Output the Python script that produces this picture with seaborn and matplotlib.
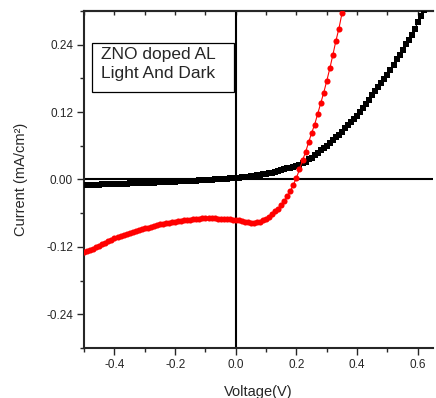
import numpy as np
import pandas as pd
import matplotlib
matplotlib.use('Agg')
import matplotlib.pyplot as plt
import seaborn as sns
from matplotlib.patches import Rectangle
from matplotlib.ticker import MultipleLocator, FormatStrFormatter

# Voltage sweep (V), 0.01 V steps
v_dark = np.round(np.arange(-0.50, 0.625, 0.01), 2)
v_light = np.round(np.arange(-0.50, 0.365, 0.01), 2)

# Dark current (mA/cm2)
i_dark = [
    -0.0100, -0.0098, -0.0096, -0.0094, -0.0092, -0.0090, -0.0088, -0.0086, -0.0084, -0.0082,
    -0.0080, -0.0078, -0.0076, -0.0074, -0.0072, -0.0070, -0.0068, -0.0066, -0.0064, -0.0062,
    -0.0060, -0.0058, -0.0056, -0.0054, -0.0052, -0.0050, -0.0047, -0.0045, -0.0042, -0.0040,
    -0.0037, -0.0035, -0.0032, -0.0030, -0.0027, -0.0024, -0.0021, -0.0018, -0.0015, -0.0012,
    -0.0009, -0.0006, -0.0003, 0.0000, 0.0003, 0.0006, 0.0010, 0.0014, 0.0018, 0.0022,
    0.0030, 0.0035, 0.0040, 0.0045, 0.0050, 0.0060, 0.0065, 0.0075, 0.0080, 0.0090,
    0.0100, 0.0110, 0.0120, 0.0140, 0.0150, 0.0170, 0.0180, 0.0200, 0.0210, 0.0230,
    0.024, 0.026, 0.029, 0.032, 0.036, 0.039, 0.043, 0.047, 0.052, 0.057,
    0.060, 0.065, 0.070, 0.075, 0.079, 0.085, 0.091, 0.097, 0.103, 0.108,
    0.114, 0.121, 0.128, 0.134, 0.142, 0.150, 0.157, 0.165, 0.172, 0.179,
    0.186, 0.196, 0.204, 0.214, 0.222, 0.231, 0.241, 0.249, 0.258, 0.268,
    0.280, 0.291, 0.302,
]

# Light current (mA/cm2)
i_light = [
    -0.130, -0.128, -0.125, -0.123, -0.120, -0.118, -0.115, -0.113, -0.110, -0.108,
    -0.105, -0.103, -0.101, -0.099, -0.097, -0.095, -0.093, -0.092, -0.090, -0.089,
    -0.087, -0.086, -0.084, -0.083, -0.081, -0.080, -0.079, -0.078, -0.077, -0.076,
    -0.075, -0.074, -0.074, -0.073, -0.072, -0.072, -0.071, -0.070, -0.070, -0.069,
    -0.069, -0.069, -0.069, -0.069, -0.070, -0.070, -0.070, -0.071, -0.071, -0.072,
    -0.073, -0.073, -0.074, -0.075, -0.076, -0.077, -0.077, -0.076, -0.075, -0.073,
    -0.070, -0.066, -0.062, -0.057, -0.052, -0.045, -0.038, -0.030, -0.021, -0.009,
    0.003, 0.018, 0.034, 0.049, 0.066, 0.083, 0.098, 0.117, 0.136, 0.155,
    0.176, 0.198, 0.222, 0.247, 0.269, 0.296, 0.322,
]

dark = pd.DataFrame({'V': v_dark, 'I': i_dark})
light = pd.DataFrame({'V': v_light, 'I': i_light})

sns.set_style('ticks')
plt.rcParams['font.family'] = ['Liberation Sans', 'DejaVu Sans']

fig = plt.figure(figsize=(4.36, 3.98), dpi=100)
ax = fig.add_axes([0.193, 0.126, 0.800, 0.846])

ax.axhline(0, color='black', lw=1.5, zorder=1)
ax.axvline(0, color='black', lw=1.5, zorder=1)

sns.lineplot(data=dark, x='V', y='I', ax=ax, color='black', lw=0.8,
             marker='s', markersize=3.9, markeredgewidth=0, sort=False, zorder=3)
sns.lineplot(data=light, x='V', y='I', ax=ax, color='red', lw=0.8,
             marker='o', markersize=4.4, markeredgewidth=0, sort=False, zorder=4)

ax.set_xlim(-0.5, 0.65)
ax.set_ylim(-0.30, 0.30)

ax.xaxis.set_major_locator(MultipleLocator(0.2))
ax.xaxis.set_minor_locator(MultipleLocator(0.1))
ax.yaxis.set_major_locator(MultipleLocator(0.12))
ax.yaxis.set_minor_locator(MultipleLocator(0.06))
ax.xaxis.set_major_formatter(FormatStrFormatter('%.1f'))
ax.yaxis.set_major_formatter(FormatStrFormatter('%.2f'))

ax.tick_params(which='major', direction='out', length=5, width=1, labelsize=8.5, pad=3)
ax.tick_params(which='minor', direction='out', length=3, width=1)

for side in ['left', 'bottom', 'top']:
    ax.spines[side].set_linewidth(1.5)
ax.spines['right'].set_visible(False)

# top axis: inward ticks every 0.1, no labels
top = ax.secondary_xaxis('top')
top.xaxis.set_major_locator(MultipleLocator(0.1))
top.tick_params(direction='in', length=3, width=1, labeltop=False)
top.spines['top'].set_linewidth(1.5)

ax.set_xlabel('Voltage(V)', fontsize=10.5, labelpad=10)
ax.set_ylabel('Current (mA/cm²)', fontsize=10.5, labelpad=13)

ax.add_patch(Rectangle((0.023, 0.760), 0.407, 0.145, transform=ax.transAxes,
                       fill=True, fc='white', ec='black', lw=0.9, zorder=5))
ax.text(0.049, 0.893, 'ZNO doped AL\nLight And Dark', transform=ax.transAxes,
        fontsize=12.5, va='top', ha='left', linespacing=1.3, zorder=6)

fig.savefig('out.png', dpi=100)
